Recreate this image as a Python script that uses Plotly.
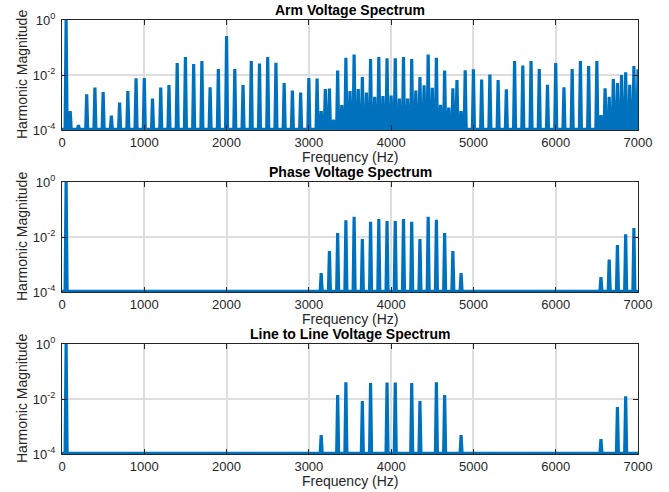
import plotly.graph_objects as go

# ---------------- data ----------------
arm_freq = [50, 100, 200, 300, 400, 500, 600, 700, 800, 900, 1000, 1100, 1200, 1300, 1400, 1500,
            1600, 1700, 1800, 1900, 2000, 2100, 2200, 2300, 2400, 2500, 2600, 2700, 2800, 2900,
            3000, 3100, 3150, 3200, 3250, 3300, 3350, 3400, 3450, 3500, 3550, 3600, 3650, 3700,
            3750, 3800, 3850, 3900, 3950, 4000, 4050, 4100, 4150, 4200, 4250, 4300, 4350, 4400,
            4450, 4500, 4550, 4600, 4650, 4700, 4750, 4800, 4850, 4900, 5000, 5100, 5200, 5300,
            5400, 5500, 5600, 5700, 5800, 5900, 6000, 6100, 6200, 6300, 6400, 6500, 6550, 6600,
            6650, 6700, 6750, 6800, 6850, 6900, 6950, 7000]
arm_mag = [1.0, 4.9e-4, 1.5e-4, 2.0e-3, 3.5e-3, 2.4e-3, 3.3e-4, 1.0e-3, 2.6e-3, 7.6e-3, 7.8e-3,
           1.4e-3, 3.5e-3, 4.3e-3, 2.7e-2, 4.5e-2, 2.5e-2, 3.2e-2, 3.6e-3, 1.66e-2, 0.26, 1.66e-2,
           4.3e-3, 3.2e-2, 2.6e-2, 4.5e-2, 2.8e-2, 5.1e-3, 2.7e-3, 2.3e-3, 7.7e-3, 7.4e-3, 4.9e-4,
           3.1e-3, 3.2e-3, 2.4e-4, 1.45e-2, 8.1e-4, 4.2e-2, 2.6e-3, 5.5e-2, 3.1e-3, 8.5e-3, 2.3e-3,
           3.8e-2, 1.6e-3, 4.5e-2, 1.7e-3, 4.1e-2, 1.8e-3, 4.1e-2, 1.4e-3, 4.5e-2, 1.4e-3, 3.8e-2,
           2.75e-3, 8.5e-3, 4.2e-3, 5.5e-2, 3.4e-3, 4.2e-2, 8.3e-4, 1.45e-2, 6.5e-4, 3.3e-3, 6.5e-3,
           4.9e-4, 1.48e-2, 1.6e-2, 6.8e-3, 1.05e-2, 6.5e-3, 3.0e-3, 3.2e-2, 2.2e-2, 3.2e-2, 1.66e-2,
           4.4e-3, 2.75e-2, 3.6e-3, 1.66e-2, 3.2e-2, 2.1e-2, 3.2e-2, 3.5e-4, 3.3e-3, 1.6e-3, 7.1e-3,
           5.1e-3, 1.0e-2, 1.26e-2, 4.4e-3, 2.1e-2, 1.6e-2]

phase_freq = [50, 3150, 3250, 3350, 3450, 3550, 3650, 3750, 3850, 3950, 4050, 4150, 4250, 4350,
              4450, 4550, 4650, 4750, 4850, 6550, 6650, 6750, 6850, 6950]
phase_mag = [1.0, 4.9e-4, 3.1e-3, 1.4e-2, 4.1e-2, 5.4e-2, 8.5e-3, 3.6e-2, 4.5e-2, 3.8e-2, 3.8e-2,
             4.5e-2, 3.6e-2, 8.5e-3, 5.4e-2, 4.2e-2, 1.4e-2, 3.1e-3, 4.9e-4, 3.5e-4, 1.5e-3,
             5.1e-3, 1.26e-2, 2.1e-2]

ll_freq = [50, 3150, 3350, 3450, 3650, 3750, 3950, 4050, 4250, 4350, 4550, 4650, 4850, 6550,
           6750, 6850]
ll_mag = [1.0, 4.9e-4, 1.4e-2, 4.1e-2, 8.5e-3, 3.8e-2, 4.0e-2, 4.0e-2, 3.8e-2, 8.5e-3, 4.1e-2,
          1.4e-2, 4.9e-4, 3.5e-4, 5.1e-3, 1.26e-2]

titles = ["Arm Voltage Spectrum", "Phase Voltage Spectrum", "Line to Line Voltage Spectrum"]
x_ticks = [0, 1000, 2000, 3000, 4000, 5000, 6000, 7000]
y_ticks = [1e-4, 1e-2, 1]
y_ticktext = ["10<sup>-4</sup>", "10<sup>-2</sup>", "10<sup>0</sup>"]

# ---------------- style ----------------
BLUE = "#0072BD"
AX = "#262626"
GRID = "#dedede"
FONT = "Liberation Sans, Arial, Helvetica, sans-serif"
FLOOR = 1.06e-4
HALF = 12  # half base of each spike in Hz


def spike_xy(freqs, mags):
    xs, ys = [0], [FLOOR]
    for f, m in zip(freqs, mags):
        xs += [f - HALF, f, f + HALF]
        ys += [FLOOR, m, FLOOR]
    xs.append(7000)
    ys.append(FLOOR)
    return xs, ys


series = [(arm_freq, arm_mag), (phase_freq, phase_mag), (ll_freq, ll_mag)]

fig = go.Figure()
domains = [[(434 - 110) / 434, 1.0], [(434 - 272) / 434, (434 - 162) / 434], [0.0, 110 / 434]]

annotations = []
for i, ((fr, mg), title) in enumerate(zip(series, titles)):
    n = "" if i == 0 else str(i + 1)
    xs, ys = spike_xy(fr, mg)
    fig.add_trace(go.Scatter(x=xs, y=ys, mode="lines", xaxis="x" + n, yaxis="y" + n,
                             line=dict(color=BLUE, width=3.2), showlegend=False,
                             hoverinfo="skip"))
    xa = dict(domain=[0, 1], anchor="y" + n, range=[0, 7000], tickvals=x_ticks,
              ticks="inside", ticklen=5, tickcolor=AX, tickwidth=1, showline=True,
              linecolor=AX, linewidth=1, mirror="ticks", showgrid=True, gridcolor=GRID,
              gridwidth=1.5, zeroline=False, tickfont=dict(family=FONT, size=13, color=AX))
    ya = dict(domain=domains[i], anchor="x" + n, type="log", range=[-4, 0], tickvals=y_ticks,
              ticktext=y_ticktext, ticks="inside", ticklen=5, tickcolor=AX, tickwidth=1,
              showline=True, linecolor=AX, linewidth=1, mirror="ticks", showgrid=True,
              gridcolor=GRID, gridwidth=1.5, zeroline=False, ticklabelstandoff=3,
              tickfont=dict(family=FONT, size=13, color=AX))
    fig.layout["xaxis" + n] = xa
    fig.layout["yaxis" + n] = ya
    annotations.append(dict(text="<b>" + title + "</b>", xref="x" + n + " domain",
                            yref="y" + n + " domain", x=0.5, y=1, xanchor="center",
                            yanchor="bottom", showarrow=False,
                            font=dict(family=FONT, size=14, color="black")))
    annotations.append(dict(text="Frequency (Hz)", xref="x" + n + " domain",
                            yref="y" + n + " domain", x=0.5, y=0, xanchor="center",
                            yanchor="top", yshift=-17, showarrow=False,
                            font=dict(family=FONT, size=14, color=AX)))
    annotations.append(dict(text="Harmonic Magnitude", xref="x" + n + " domain",
                            yref="y" + n + " domain", x=0, y=0.5, xanchor="center",
                            yanchor="middle", xshift=-40, textangle=-90, showarrow=False,
                            font=dict(family=FONT, size=14, color=AX)))

fig.update_layout(width=669, height=492, margin=dict(l=62, r=31, t=20, b=38),
                  paper_bgcolor="white", plot_bgcolor="white", annotations=annotations,
                  font=dict(family=FONT))

fig.write_html("out.html", config={"displayModeBar": False},
               post_script="document.body.style.margin='0';document.body.style.overflow='hidden';")
